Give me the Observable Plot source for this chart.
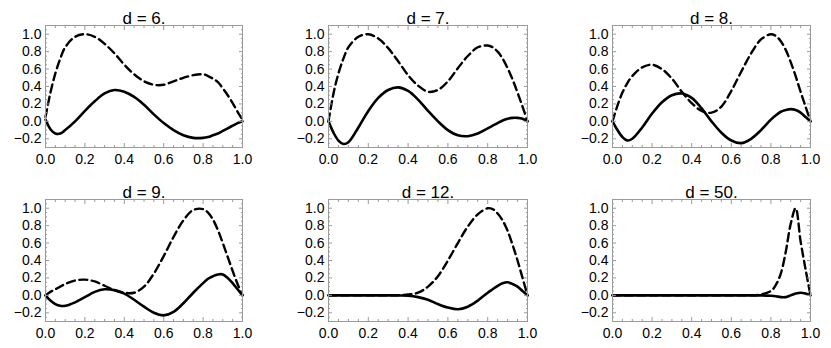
<!DOCTYPE html>
<html><head><meta charset="utf-8">
<script src="https://cdn.jsdelivr.net/npm/d3@7"></script>
<script src="https://cdn.jsdelivr.net/npm/@observablehq/plot@0.6"></script>
<style>
body{margin:0;background:#fff;}
#wrap{position:relative;width:831px;height:348px;overflow:hidden;}
#wrap > div{position:absolute;}
</style>
</head><body><div id="wrap"></div>
<script>
const xGrid = [0, .025, .05, .075, .1, .15, .2, .25, .3, .35, .4, .45, .5, .55, .6, .65, .7, .75, .8, .825, .85, .875, .9, .925, .95, .975, 1];

const titles = ["d = 6.", "d = 7.", "d = 8.", "d = 9.", "d = 12.", "d = 50."];

const dashed6 = [0.05, 0.33, 0.55, 0.72, 0.85, 0.97, 1.0, 0.97, 0.89, 0.78, 0.65, 0.54, 0.46, 0.42, 0.42, 0.46, 0.5, 0.53, 0.54, 0.52, 0.49, 0.45, 0.38, 0.3, 0.21, 0.11, 0.02];
const solid6  = [0.02, -0.09, -0.14, -0.14, -0.1, 0.0, 0.12, 0.23, 0.32, 0.36, 0.34, 0.28, 0.19, 0.08, -0.02, -0.1, -0.16, -0.19, -0.19, -0.18, -0.16, -0.14, -0.11, -0.08, -0.05, -0.02, 0.0];

const dashed7 = [0.0, 0.32, 0.55, 0.72, 0.85, 0.97, 1.0, 0.95, 0.84, 0.69, 0.53, 0.41, 0.34, 0.36, 0.46, 0.61, 0.75, 0.85, 0.87, 0.85, 0.8, 0.72, 0.61, 0.48, 0.33, 0.17, 0.0];
const solid7  = [0.0, -0.13, -0.22, -0.26, -0.24, -0.07, 0.12, 0.27, 0.36, 0.39, 0.35, 0.25, 0.12, 0.0, -0.1, -0.16, -0.17, -0.14, -0.08, -0.05, -0.02, 0.01, 0.03, 0.04, 0.04, 0.03, 0.0];

const dashed8 = [0.0, 0.18, 0.33, 0.44, 0.52, 0.62, 0.65, 0.6, 0.49, 0.34, 0.21, 0.12, 0.1, 0.17, 0.35, 0.57, 0.78, 0.94, 1.0, 0.98, 0.92, 0.82, 0.68, 0.52, 0.34, 0.17, 0.0];
const solid8  = [0.0, -0.1, -0.18, -0.22, -0.2, -0.07, 0.09, 0.22, 0.3, 0.32, 0.27, 0.15, 0.0, -0.13, -0.22, -0.25, -0.2, -0.1, 0.02, 0.07, 0.11, 0.13, 0.14, 0.13, 0.1, 0.05, 0.0];

const dashed9 = [0.0, 0.04, 0.07, 0.1, 0.13, 0.17, 0.18, 0.16, 0.11, 0.06, 0.03, 0.03, 0.1, 0.25, 0.45, 0.67, 0.86, 0.98, 0.99, 0.95, 0.87, 0.75, 0.6, 0.44, 0.28, 0.13, 0.0];
const solid9  = [0.0, -0.06, -0.1, -0.12, -0.12, -0.08, -0.02, 0.04, 0.07, 0.06, 0.02, -0.05, -0.13, -0.2, -0.23, -0.19, -0.09, 0.03, 0.14, 0.19, 0.22, 0.24, 0.24, 0.2, 0.14, 0.07, 0.0];

const dashed12 = [0, 0, 0, 0, 0, 0, 0, 0, 0, 0.002, 0.01, 0.03, 0.1, 0.22, 0.4, 0.6, 0.79, 0.93, 1.0, 0.99, 0.94, 0.86, 0.74, 0.58, 0.4, 0.2, 0.0];
const solid12  = [0, 0, 0, 0, 0, 0, 0, 0, 0, -0.002, -0.005, -0.02, -0.05, -0.1, -0.14, -0.16, -0.13, -0.06, 0.03, 0.07, 0.11, 0.14, 0.15, 0.13, 0.1, 0.05, 0.0];

const dashed50 = [0, 0, 0, 0, 0, 0, 0, 0, 0, 0, 0, 0, 0, 0, 0, 0, 0, 0.01, 0.05, 0.12, 0.25, 0.5, 0.82, 1.0, 0.62, 0.3, 0.0];
const solid50  = [0, 0, 0, 0, 0, 0, 0, 0, 0, 0, 0, 0, 0, 0, 0, 0, 0, 0, -0.005, -0.01, -0.02, -0.02, 0.0, 0.02, 0.03, 0.02, 0.0];

const xTicks = [0, 0.2, 0.4, 0.6, 0.8, 1.0];
const yTicks = [-0.2, 0.0, 0.2, 0.4, 0.6, 0.8, 1.0];
const xMinorTicks = [0.05, 0.1, 0.15, 0.25, 0.3, 0.35, 0.45, 0.5, 0.55, 0.65, 0.7, 0.75, 0.85, 0.9, 0.95];
const yMinorTicks = [-0.25, -0.15, -0.1, -0.05, 0.05, 0.1, 0.15, 0.25, 0.3, 0.35, 0.45, 0.5, 0.55, 0.65, 0.7, 0.75, 0.85, 0.9, 0.95, 1.05];

const dashedSeries = [dashed6, dashed7, dashed8, dashed9, dashed12, dashed50];
const solidSeries = [solid6, solid7, solid8, solid9, solid12, solid50];

const frameLefts = [45, 328, 612];
const frameWidths = [197, 199, 198];
const rowTops = [0, 174];
const ML = 45, MR = 15, MT = 25, MB = 27, H = 174;
const gray = "#9a9a9a";
const fmt = d3.format(".1f");

const wrap = document.getElementById("wrap");

titles.forEach((title, i) => {
  const col = i % 3, row = Math.floor(i / 3);
  const dashedRows = xGrid.map((x, j) => ({x, v: dashedSeries[i][j]}));
  const solidRows = xGrid.map((x, j) => ({x, v: solidSeries[i][j]}));
  const chart = Plot.plot({
    width: frameWidths[col] + ML + MR,
    height: H,
    marginLeft: ML, marginRight: MR, marginTop: MT, marginBottom: MB,
    style: {fontFamily: "'Liberation Sans', Arial, Helvetica, sans-serif", fontSize: "14px", background: "white", color: "#000"},
    x: {domain: [0, 1], label: null},
    y: {domain: [-0.3, 1.1], label: null},
    marks: [
      Plot.line(dashedRows, {x: "x", y: "v", curve: "catmull-rom", stroke: "black", strokeWidth: 2.4, strokeDasharray: "8,4.5"}),
      Plot.line(solidRows, {x: "x", y: "v", curve: "catmull-rom", stroke: "black", strokeWidth: 2.6}),
      Plot.frame({stroke: gray, strokeWidth: 1}),
      Plot.axisX(xTicks, {anchor: "bottom", tickSize: -4, fill: "none", stroke: gray, label: null}),
      Plot.axisX(xTicks, {anchor: "top", tickSize: -4, fill: "none", stroke: gray, label: null}),
      Plot.axisY(yTicks, {anchor: "left", tickSize: -4, fill: "none", stroke: gray, label: null}),
      Plot.axisY(yTicks, {anchor: "right", tickSize: -4, fill: "none", stroke: gray, label: null}),
      Plot.axisX(xMinorTicks, {anchor: "bottom", tickSize: -2, fill: "none", stroke: gray, label: null}),
      Plot.axisX(xMinorTicks, {anchor: "top", tickSize: -2, fill: "none", stroke: gray, label: null}),
      Plot.axisY(yMinorTicks, {anchor: "left", tickSize: -2, fill: "none", stroke: gray, label: null}),
      Plot.axisY(yMinorTicks, {anchor: "right", tickSize: -2, fill: "none", stroke: gray, label: null}),
      Plot.axisX(xTicks, {anchor: "bottom", tickSize: 0, tickPadding: 7, tickFormat: fmt, fontSize: 14, label: null}),
      Plot.axisY(yTicks, {anchor: "left", tickSize: 0, tickPadding: 4, tickFormat: fmt, fontSize: 14, label: null}),
      Plot.text([title], {text: d => d, frameAnchor: "top", lineAnchor: "bottom", dy: -2, fontSize: 17, fill: "#000"})
    ]
  });
  const holder = document.createElement("div");
  holder.style.left = (frameLefts[col] - ML) + "px";
  holder.style.top = rowTops[row] + "px";
  holder.appendChild(chart);
  wrap.appendChild(holder);
});
</script>
</body></html>
